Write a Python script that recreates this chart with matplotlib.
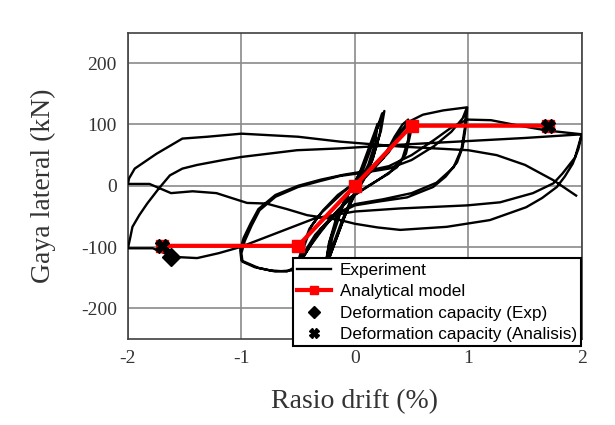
"""
Hysteresis: experiment vs analytical model
"""
import numpy as np
import matplotlib
matplotlib.use("Agg")
import matplotlib.pyplot as plt

plt.rcParams["axes.unicode_minus"] = False

# experiment, traced in stages (drift %, lateral force kN)
cyc025_x = [0, 0.06, 0.13, 0.19, 0.24, 0.22, 0.16, 0.08, 0.0, -0.08, -0.15, -0.21,
            -0.26, -0.23, -0.16, -0.08, 0.0, 0.07, 0.14, 0.2, 0.26, 0.23, 0.15, 0.06,
            -0.02, -0.1, -0.17, -0.23, -0.27, -0.22, -0.14, -0.05, 0.04, 0.11, 0.17,
            0.2, 0.18, 0.12, 0.04, -0.04, -0.12, -0.19, -0.24, -0.2, -0.12, -0.05]
cyc025_y = [0, 20, 55, 90, 118, 85, 45, 10, -15, -45, -80, -110,
            -135, -95, -50, -20, 5, 30, 65, 95, 122, 90, 40, 5,
            -20, -55, -90, -120, -138, -90, -45, -10, 20, 55, 85,
            101, 70, 35, 5, -25, -60, -95, -125, -85, -40, -10]

cyc05_x = [0.1, 0.25, 0.35, 0.42, 0.47, 0.49, 0.45, 0.37, 0.16, 0.0, -0.15, -0.3,
           -0.42, -0.5, -0.45, -0.38, -0.28, -0.15, 0.0, 0.15, 0.3, 0.4, 0.48,
           0.47, 0.42, 0.3, 0.12, -0.05, -0.2, -0.35, -0.45, -0.52, -0.47, -0.4,
           -0.3, -0.1, 0.1, 0.3, 0.4]
cyc05_y = [15, 45, 80, 100, 108, 85, 52, 30, 4, -15, -40, -75,
           -105, -130, -100, -65, -40, -15, 5, 25, 55, 85, 103,
           75, 45, 20, 0, -20, -50, -85, -115, -135, -105, -70,
           -45, -10, 20, 60, 88]

cyc1_x = [0.47, 0.6, 0.78, 0.99, 0.98, 0.95, 0.9, 0.8, 0.69, 0.46, 0.2, 0.0, -0.15,
          -0.3, -0.4, -0.5, -0.6, -0.75, -0.88, -0.99, -1.0, -0.97, -0.91, -0.84,
          -0.7, -0.5, -0.3, -0.13, 0.1, 0.3, 0.5, 0.7, 0.85, 0.95, 0.98,
          0.97, 0.94, 0.87, 0.72, 0.5, 0.25, 0.0, -0.2, -0.35, -0.45, -0.55, -0.7,
          -0.85, -1.0, -1.01, -0.98, -0.92, -0.85, -0.7, -0.5, -0.3, -0.1, 0.1,
          0.3, 0.5, 0.7, 0.85, 0.99]
cyc1_y = [104, 116, 123, 128, 100, 63, 38, 15, -2, -19, -26, -32, -45,
          -70, -100, -130, -140, -138, -133, -124, -110, -90, -65, -40,
          -18, -2, 8, 16, 22, 28, 42, 65, 88, 110, 124,
          95, 60, 30, 5, -12, -22, -30, -50, -80, -110, -138, -140,
          -134, -122, -105, -85, -62, -38, -15, 0, 10, 18, 24,
          32, 50, 75, 95, 108]

cyc2_x = [1.2, 1.45, 1.7, 2.0,
          1.94, 1.83, 1.75, 1.57, 1.28, 0.99, 0.4, 0.0, -0.35, -0.7, -1.01, -1.2,
          -1.39, -1.6, -1.78, -2.0,
          -1.98, -1.96, -1.9, -1.83, -1.73, -1.63, -1.52, -1.39, -1.16, -1.0, -0.51,
          -0.13, 0.4, 1.0, 1.5, 2.0,
          1.97, 1.92, 1.85, 1.78, 1.65, 1.51, 1.19, 0.81, 0.4, 0.2, 0.0, -0.13,
          -0.42, -0.6, -0.78, -0.95, -1.22, -1.43, -1.62, -1.81, -2.0,
          -1.99, -1.94, -1.75, -1.52, -1.3, -1.0, -0.5, -0.13, 0.4, 1.0, 1.25,
          1.5, 1.75, 1.95]
cyc2_y = [107, 98, 90, 84,
          46, 20, 4, -12, -27, -32, -37, -42, -53, -78, -100, -110,
          -118, -116, -102, -102,
          -85, -67, -48, -29, -5, 17, 28, 34, 42, 47, 58,
          61, 67, 73, 78, 84,
          60, 36, 15, -2, -20, -35, -56, -67, -72, -68, -62, -56,
          -48, -38, -29, -28, -12, -9, -12, 3, 3,
          12, 28, 52, 77, 80, 85, 80, 72, 64, 58, 50,
          34, 9, -16]

# analytical model and deformation capacities
model_x = [-1.7, -0.5, 0.0, 0.5, 1.7]
model_y = [-98, -98, 0, 98, 98]
cap_exp_x = [-1.62]
cap_exp_y = [-117]
cap_ana_x = [-1.7, 1.7]
cap_ana_y = [-98, 98]

exp_x = np.concatenate([cyc025_x, cyc05_x, cyc1_x, cyc2_x])
exp_y = np.concatenate([cyc025_y, cyc05_y, cyc1_y, cyc2_y])

fig = plt.figure(figsize=(6.15, 4.25), dpi=100)
ax = fig.add_axes([0.208, 0.2024, 0.738, 0.721])

ax.plot(exp_x, exp_y, color="black", lw=1.7, label="Experiment", zorder=3)
ax.plot(model_x, model_y, color="#ff0000", lw=3, marker="s", markersize=9,
        label="Analytical model", zorder=4)
ax.plot(cap_exp_x, cap_exp_y, ls="none", marker="D", color="black",
        markersize=9, label="Deformation capacity (Exp)", zorder=5)
ax.plot(cap_ana_x, cap_ana_y, ls="none", marker="X", color="black",
        markersize=10, label="Deformation capacity (Analisis)", zorder=5)

ax.set_xlim(-2, 2)
ax.set_ylim(-250, 250)
ax.set_xticks([-2, -1, 0, 1, 2])
ax.set_yticks([-200, -100, 0, 100, 200])
ax.grid(True, color="#8a8a8a", lw=1.2)
ax.set_axisbelow(True)
ax.tick_params(length=0, pad=8, labelsize=14, labelcolor="#333333")
for lab in ax.get_xticklabels() + ax.get_yticklabels():
    lab.set_family("Liberation Serif")
for sp in ax.spines.values():
    sp.set_color("#404040")
    sp.set_linewidth(1.2)

ax.set_xlabel("Rasio drift (%)", family="Liberation Serif", fontsize=20,
              color="#333333", labelpad=16)
ax.set_ylabel("Gaya lateral (kN)", family="Liberation Serif", fontsize=20,
              color="#333333", labelpad=18)

leg = ax.legend(loc="upper left", bbox_to_anchor=(0.363, 0.263),
                prop={"family": "Liberation Sans", "size": 12.3},
                fancybox=False, framealpha=1, edgecolor="black",
                borderaxespad=0, labelspacing=0.38, handlelength=2.0,
                handletextpad=0.5, borderpad=0.25, markerscale=0.7)
leg.get_frame().set_linewidth(1.5)
leg.set_zorder(10)

fig.savefig("out.png", dpi=100)
